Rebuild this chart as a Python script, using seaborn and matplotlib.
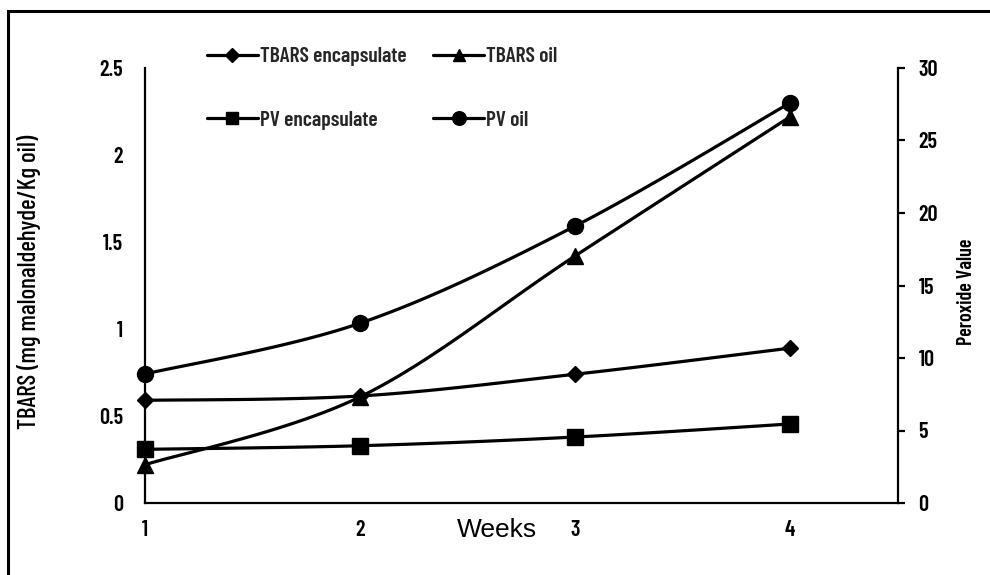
import numpy as np
import pandas as pd
import matplotlib
matplotlib.use("Agg")
import matplotlib.pyplot as plt
from matplotlib.lines import Line2D
from matplotlib.patches import Rectangle
import seaborn as sns

# ---- data -------------------------------------------------------------
weeks = [1, 2, 3, 4]
tbars_encapsulate = [0.59, 0.615, 0.74, 0.89]
tbars_oil = [0.22, 0.61, 1.42, 2.22]
pv_encapsulate = [3.7, 3.95, 4.55, 5.45]
pv_oil = [8.9, 12.4, 19.1, 27.6]

week_ticks = [1, 2, 3, 4]
tbars_ticks = [0, 0.5, 1, 1.5, 2, 2.5]
tbars_tick_labels = ["0", "0.5", "1", "1.5", "2", "2.5"]
pv_ticks = [0, 5, 10, 15, 20, 25, 30]

# ---- fonts ------------------------------------------------------------
sns.set_theme(style="white")
plt.rcParams["font.family"] = ["Barlow Condensed", "DejaVu Sans"]
plt.rcParams["font.weight"] = 600


def smooth(xs, ys, n=40):
    """Catmull-Rom style smoothing rendered as cubic Bezier segments."""
    P = np.column_stack([xs, ys]).astype(float)
    out = []
    for i in range(len(P) - 1):
        p0 = P[i - 1] if i > 0 else P[i]
        p1, p2 = P[i], P[i + 1]
        p3 = P[i + 2] if i + 2 < len(P) else P[i + 1]
        c1 = p1 + (p2 - p0) / 6.0
        c2 = p2 - (p3 - p1) / 6.0
        t = np.linspace(0, 1, n)[:, None]
        seg = ((1 - t) ** 3) * p1 + 3 * ((1 - t) ** 2) * t * c1 \
            + 3 * (1 - t) * t ** 2 * c2 + t ** 3 * p2
        out.append(seg if i == 0 else seg[1:])
    pts = np.vstack(out)
    return pd.DataFrame({"x": pts[:, 0], "y": pts[:, 1]})


W, H = 990, 575
fig = plt.figure(figsize=(W / 100, H / 100), dpi=100)
ax = fig.add_axes([145 / W, 1 - 503 / H, (897.7 - 145) / W, (503 - 68) / H])
ax2 = ax.twinx()

lw = 2.3
series = [
    (ax, tbars_encapsulate, "D", 8.5, "TBARS encapsulate"),
    (ax2, pv_encapsulate, "s", 11, "PV encapsulate"),
    (ax, tbars_oil, "^", 11, "TBARS oil"),
    (ax2, pv_oil, "o", 11.5, "PV oil"),
]
for a, vals, mk, ms, name in series:
    curve = smooth(weeks, vals)
    sns.lineplot(data=curve, x="x", y="y", ax=a, sort=False, estimator=None,
                 color="black", linewidth=lw, zorder=3)
    a.plot(weeks, vals, linestyle="none", marker=mk, markersize=ms,
           color="black", zorder=4, clip_on=False)

# ---- axes styling -----------------------------------------------------
for a in (ax, ax2):
    a.set_xlim(1, 4.5)
    a.set_facecolor("none")
    a.set_xlabel("")
    a.set_ylabel("")
    for s in a.spines.values():
        s.set_color("black")
        s.set_linewidth(1.6)
    a.spines["top"].set_visible(False)

ax.set_ylim(0, 2.5)
ax2.set_ylim(0, 30)
ax.spines["right"].set_visible(False)
ax2.spines["left"].set_visible(False)
ax2.spines["bottom"].set_visible(False)

ax.set_xticks(week_ticks)
ax.set_xticklabels([str(w) for w in week_ticks])
ax.set_yticks(tbars_ticks)
ax.set_yticklabels(tbars_tick_labels)
ax2.set_yticks(pv_ticks)
ax2.set_yticklabels([str(v) for v in pv_ticks])

ax.tick_params(axis="x", length=0, pad=12, labelsize=16, colors="black")
ax.tick_params(axis="y", length=0, pad=16, labelsize=16, colors="black")
ax2.tick_params(axis="y", direction="out", length=5, width=1.6, pad=10,
                labelsize=16, colors="black")

ax.set_ylabel("TBARS (mg malonaldehyde/Kg oil)", fontsize=18,
              fontweight=500, color="black")
ax.yaxis.set_label_coords((41 - 145) / 752.7, (503 - 282) / 435)
ax2.set_ylabel("Peroxide Value", fontsize=14.5, fontweight=600,
               color="black", rotation=90)
ax2.yaxis.set_label_coords((957 - 145) / 752.7, (503 - 292) / 435)

fig.text(497 / W, 1 - 530 / H, "Weeks", ha="center", va="center",
         fontsize=19, family=["Liberation Sans", "DejaVu Sans"],
         fontweight="normal", color="black")

# ---- legend -----------------------------------------------------------
handles = [Line2D([], [], color="black", linewidth=lw, marker=mk,
                  markersize=ms * 0.85, label=name)
           for _, _, mk, ms, name in series]
fig.legend(handles=handles, ncol=2, frameon=False, loc="center left",
           bbox_to_anchor=(207 / W, 1 - 88.5 / H), fontsize=15.5,
           handlelength=2.35, handletextpad=0.1, columnspacing=1.25,
           labelspacing=2.05, borderaxespad=0, borderpad=0)

# outer frame
fig.patches.append(Rectangle((8 / W, -0.1), 1.2, 1 - 11 / H + 0.1,
                             transform=fig.transFigure, fill=False,
                             edgecolor="black", linewidth=2.2))

fig.savefig("out.png", dpi=100)
